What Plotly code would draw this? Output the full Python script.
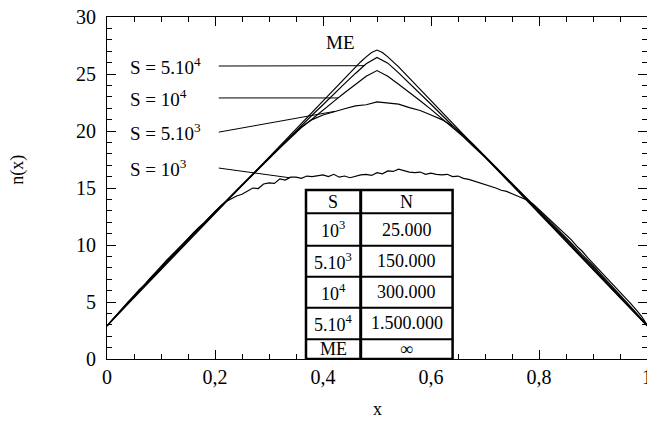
import numpy as np
import plotly.graph_objects as go

# ---------------- data ----------------
x_me = [0, 0.1, 0.2, 0.3, 0.4, 0.44, 0.46, 0.47, 0.48, 0.49, 0.5, 0.51, 0.52, 0.53, 0.54, 0.56, 0.6, 0.7, 0.8, 0.9, 1.0]
n_me = [2.9, 7.84, 12.78, 17.72, 22.66, 24.64, 25.62, 26.08, 26.5, 26.88, 27.1, 26.88, 26.5, 26.08, 25.62, 24.64, 22.66, 17.72, 12.78, 7.84, 2.9]

x_02 = [round(0.02 * i, 2) for i in range(51)]
n_5e4 = [2.9, 3.95, 4.95, 5.95, 6.95, 7.95, 8.95, 9.9, 10.9, 11.85, 12.85, 13.8, 14.8, 15.75, 16.7, 17.65,
         18.6, 19.55, 20.45, 21.4, 22.3, 23.25, 24.15, 25.05, 25.9, 26.45, 25.95, 25.1, 24.2, 23.3, 22.35,
         21.4, 20.45, 19.55, 18.6, 17.7, 16.75, 15.8, 14.8, 13.85, 12.85, 11.9, 10.9, 9.9, 8.9, 7.95, 6.95,
         5.95, 4.95, 3.95, 2.95]
n_1e4 = [2.9, 3.95, 5.0, 5.95, 7.0, 7.95, 9.0, 9.95, 10.95, 11.9, 12.85, 13.8, 14.75, 15.7, 16.65, 17.55,
         18.5, 19.4, 20.3, 21.05, 21.85, 22.6, 23.35, 24.05, 24.8, 25.3, 24.8, 24.1, 23.4, 22.65, 21.9,
         21.1, 20.3, 19.5, 18.6, 17.75, 16.8, 15.85, 14.85, 13.9, 12.9, 11.95, 11.0, 10.0, 9.0, 8.05, 7.0,
         6.0, 5.0, 4.0, 2.95]
n_5e3 = [2.9, 4.0, 5.05, 6.0, 7.1, 8.05, 9.1, 10.0, 11.05, 11.95, 12.95, 13.85, 14.8, 15.75, 16.65, 17.6,
         18.55, 19.5, 20.35, 21.0, 21.4, 21.7, 21.95, 22.2, 22.3, 22.55, 22.45, 22.35, 22.05, 21.8, 21.4,
         21.0, 20.45, 19.65, 18.75, 17.8, 16.85, 15.9, 14.9, 13.95, 13.0, 12.05, 11.1, 10.15, 9.15, 8.2, 7.15,
         6.15, 5.1, 4.05, 3.0]

x_01 = [round(0.01 * i, 2) for i in range(101)]
n_1e3 = [2.9, 3.45, 4.0, 4.55, 5.0, 5.55, 6.1, 6.55, 7.1, 7.6,
         8.1, 8.65, 9.1, 9.6, 10.1, 10.55, 11.05, 11.55, 11.95, 12.45,
         12.95, 13.4, 13.8, 14.05, 14.3, 14.45, 14.7, 15.0, 14.95, 15.35,
         15.45, 15.4, 15.8, 15.7, 15.95, 15.95, 15.85, 16.05, 16.0, 16.05,
         16.15, 16.0, 16.2, 15.95, 16.05, 15.9, 16.05, 16.15, 16.2, 16.1,
         16.35, 16.25, 16.5, 16.45, 16.65, 16.5, 16.4, 16.35, 16.4, 16.2,
         16.3, 16.2, 16.15, 16.2, 16.0, 16.05, 15.85, 15.75, 15.6, 15.45,
         15.35, 15.15, 15.0, 14.8, 14.7, 14.5, 14.3, 14.1, 13.9, 13.55,
         13.1, 12.7, 12.25, 11.8, 11.35, 10.85, 10.45, 9.9, 9.45, 8.9,
         8.4, 7.9, 7.4, 6.9, 6.4, 5.9, 5.35, 4.85, 4.3, 3.75, 3.0]

series_labels = ["S = 5.10<sup>4</sup>", "S = 10<sup>4</sup>", "S = 5.10<sup>3</sup>", "S = 10<sup>3</sup>"]

table_S = ["S", "10<sup>3</sup>", "5.10<sup>3</sup>", "10<sup>4</sup>", "5.10<sup>4</sup>", "ME"]
table_N = ["N", "25.000", "150.000", "300.000", "1.500.000", "\u221e"]

x_tickvals = [0, 0.2, 0.4, 0.6, 0.8, 1.0]
x_ticktext = ["0", "0,2", "0,4", "0,6", "0,8", "1"]
y_tickvals = [0, 5, 10, 15, 20, 25, 30]
y_ticktext = ["0", "5", "10", "15", "20", "25", "30"]

# ---------------- figure ----------------
FONT = "Liberation Serif"
fig = go.Figure()

curves = [(x_me, n_me), (x_02, n_5e4), (x_02, n_1e4), (x_02, n_5e3), (x_01, n_1e3)]
for xs, ns in curves:
    fig.add_trace(go.Scatter(x=xs, y=ns, mode="lines",
                             line=dict(color="black", width=1.2), showlegend=False, hoverinfo="skip"))

# curve labels with leader lines
label_x = 0.038
leader_x0 = 0.207
label_y = [25.7, 22.9, 19.9, 16.75]
leader_end_x = [0.476, 0.428, 0.422, 0.338]
series_for_label = [(x_02, n_5e4), (x_02, n_1e4), (x_02, n_5e3), (x_01, n_1e3)]
for lab, ly, ex, (xs, ns) in zip(series_labels, label_y, leader_end_x, series_for_label):
    ey = float(np.interp(ex, xs, ns))
    fig.add_shape(type="line", xref="x", yref="y", x0=leader_x0, y0=ly, x1=ex, y1=ey,
                  line=dict(color="black", width=1))
    fig.add_annotation(x=label_x, y=ly, xref="x", yref="y", text=lab, showarrow=False,
                       xanchor="left", yanchor="middle", font=dict(family=FONT, size=19, color="black"))

fig.add_annotation(x=0.433, y=27.8, xref="x", yref="y", text="ME", showarrow=False,
                   xanchor="center", yanchor="middle", font=dict(family=FONT, size=19, color="black"))

# table
col_x = [0.3685, 0.4698, 0.640]
row_y = [14.82, 12.78, 9.94, 7.22, 4.5, 1.73, 0]
fig.add_shape(type="rect", xref="x", yref="y", x0=col_x[0], x1=col_x[2], y0=row_y[-1], y1=row_y[0],
              fillcolor="white", line=dict(color="black", width=2.5), layer="above")
fig.add_shape(type="line", xref="x", yref="y", x0=col_x[1], x1=col_x[1], y0=row_y[-1], y1=row_y[0],
              line=dict(color="black", width=3))
for ry in row_y[1:-1]:
    fig.add_shape(type="line", xref="x", yref="y", x0=col_x[0], x1=col_x[2], y0=ry, y1=ry,
                  line=dict(color="black", width=2))
for i, (s, nval) in enumerate(zip(table_S, table_N)):
    yc = (row_y[i] + row_y[i + 1]) / 2
    fig.add_annotation(x=(col_x[0] + col_x[1]) / 2, y=yc, xref="x", yref="y", text=s, showarrow=False,
                       xanchor="center", yanchor="middle", font=dict(family=FONT, size=18, color="black"))
    fig.add_annotation(x=(col_x[1] + col_x[2]) / 2, y=yc, xref="x", yref="y", text=nval, showarrow=False,
                       xanchor="center", yanchor="middle", font=dict(family=FONT, size=18, color="black"))

# axis titles
fig.add_annotation(x=-0.165, y=0.553, xref="paper", yref="paper", text="n(x)", showarrow=False,
                   textangle=-90, xanchor="center", yanchor="middle",
                   font=dict(family=FONT, size=18, color="black"))
fig.add_annotation(x=0.5, y=-0.146, xref="paper", yref="paper", text="x", showarrow=False,
                   xanchor="center", yanchor="middle", font=dict(family=FONT, size=18, color="black"))

axis_common = dict(showline=True, linecolor="black", linewidth=1, mirror="ticks",
                   ticks="inside", ticklen=9, tickwidth=1, tickcolor="black",
                   showgrid=False, zeroline=False, automargin=False,
                   tickfont=dict(family=FONT, size=20, color="black"))
fig.update_xaxes(range=[0, 1], tickmode="array", tickvals=x_tickvals, ticktext=x_ticktext,
                 ticklabeloverflow="allow",
                 minor=dict(dtick=0.05, tick0=0, ticks="inside", ticklen=5, tickwidth=1, tickcolor="black"),
                 **axis_common)
fig.update_yaxes(range=[0, 30], tickmode="array", tickvals=y_tickvals, ticktext=y_ticktext,
                 ticklabelstandoff=6,
                 minor=dict(dtick=1, tick0=0, ticks="inside", ticklen=5, tickwidth=1, tickcolor="black"),
                 **axis_common)

fig.update_layout(width=647, height=422, margin=dict(l=107, r=0, t=17, b=63),
                  plot_bgcolor="white", paper_bgcolor="white", showlegend=False,
                  font=dict(family=FONT, color="black"))

fig.write_html("out.html")
